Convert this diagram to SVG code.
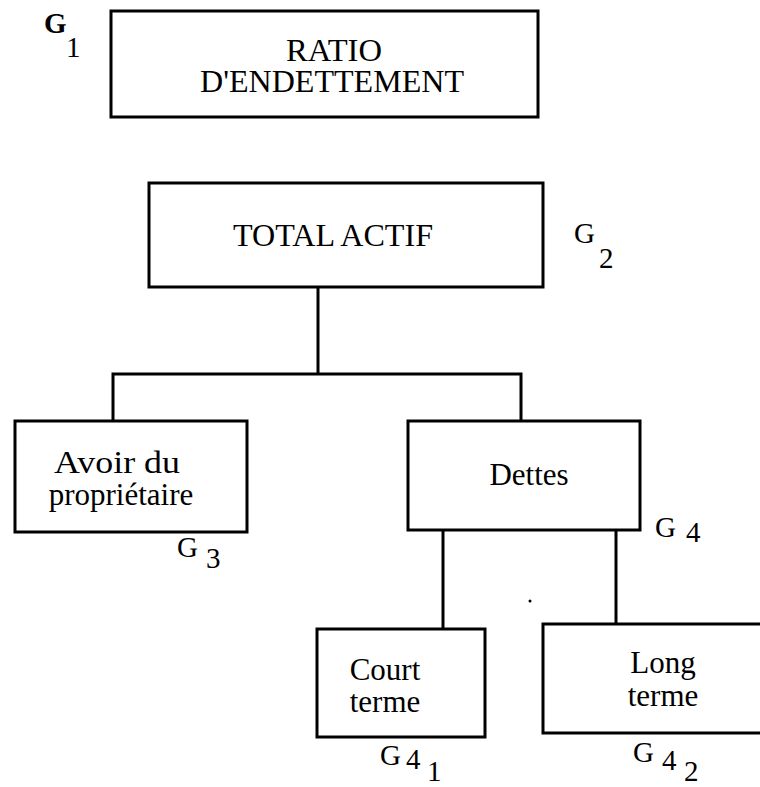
<svg xmlns="http://www.w3.org/2000/svg" width="760" height="787" viewBox="0 0 760 787">
  <style>
    .box { fill: #ffffff; stroke: #000000; stroke-width: 3; }
    .link { fill: none; stroke: #000000; stroke-width: 3; }
    .lbl { font-family: "Liberation Serif", "Times New Roman", serif; font-size: 31px; fill: #000000; text-anchor: middle; }
    .tag { font-family: "Liberation Serif", "Times New Roman", serif; font-size: 29px; fill: #000000; }
  </style>
  <rect width="760" height="787" fill="#ffffff"/>

  <!-- tree connectors -->
  <g id="connectors">
    <path class="link" d="M318 287 V374"/>
    <path class="link" d="M113 421 V374 H521 V421"/>
    <path class="link" d="M443 530 V629"/>
    <path class="link" d="M616 530 V624"/>
  </g>

  <g id="ratio">
    <rect class="box" x="111" y="11" width="427" height="106"/>
    <text class="lbl" x="334" y="61" textLength="96" lengthAdjust="spacingAndGlyphs">RATIO</text>
    <text class="lbl" x="332" y="92" textLength="264" lengthAdjust="spacingAndGlyphs">D'ENDETTEMENT</text>
    <text class="tag" x="44" y="33" font-weight="bold">G</text>
    <text class="tag" x="66" y="57">1</text>
  </g>

  <g id="total-actif">
    <rect class="box" x="149" y="183" width="394" height="104"/>
    <text class="lbl" x="333" y="246" textLength="200" lengthAdjust="spacingAndGlyphs">TOTAL ACTIF</text>
    <text class="tag" x="574" y="243">G</text>
    <text class="tag" x="599" y="268">2</text>
  </g>

  <g id="avoir">
    <rect class="box" x="15" y="421" width="232" height="111"/>
    <text class="lbl" x="117" y="473" textLength="126" lengthAdjust="spacingAndGlyphs">Avoir du</text>
    <text class="lbl" x="121" y="505">propriétaire</text>
    <text class="tag" x="177" y="557">G</text>
    <text class="tag" x="206" y="568">3</text>
  </g>

  <g id="dettes">
    <rect class="box" x="408" y="421" width="232" height="109"/>
    <text class="lbl" x="529" y="485">Dettes</text>
    <text class="tag" x="655" y="537">G</text>
    <text class="tag" x="686" y="542">4</text>
  </g>

  <g id="court-terme">
    <rect class="box" x="317" y="629" width="168" height="108"/>
    <text class="lbl" x="385" y="680">Court</text>
    <text class="lbl" x="385" y="712">terme</text>
    <text class="tag" x="380" y="765">G</text>
    <text class="tag" x="406" y="769">4</text>
    <text class="tag" x="427" y="781">1</text>
  </g>

  <g id="long-terme">
    <rect class="box" x="543" y="624" width="230" height="109"/>
    <text class="lbl" x="663" y="673">Long</text>
    <text class="lbl" x="663" y="706">terme</text>
    <text class="tag" x="633" y="762">G</text>
    <text class="tag" x="662" y="770">4</text>
    <text class="tag" x="684" y="781">2</text>
  </g>

  <circle cx="530" cy="601" r="1.5" fill="#000000"/>
</svg>
